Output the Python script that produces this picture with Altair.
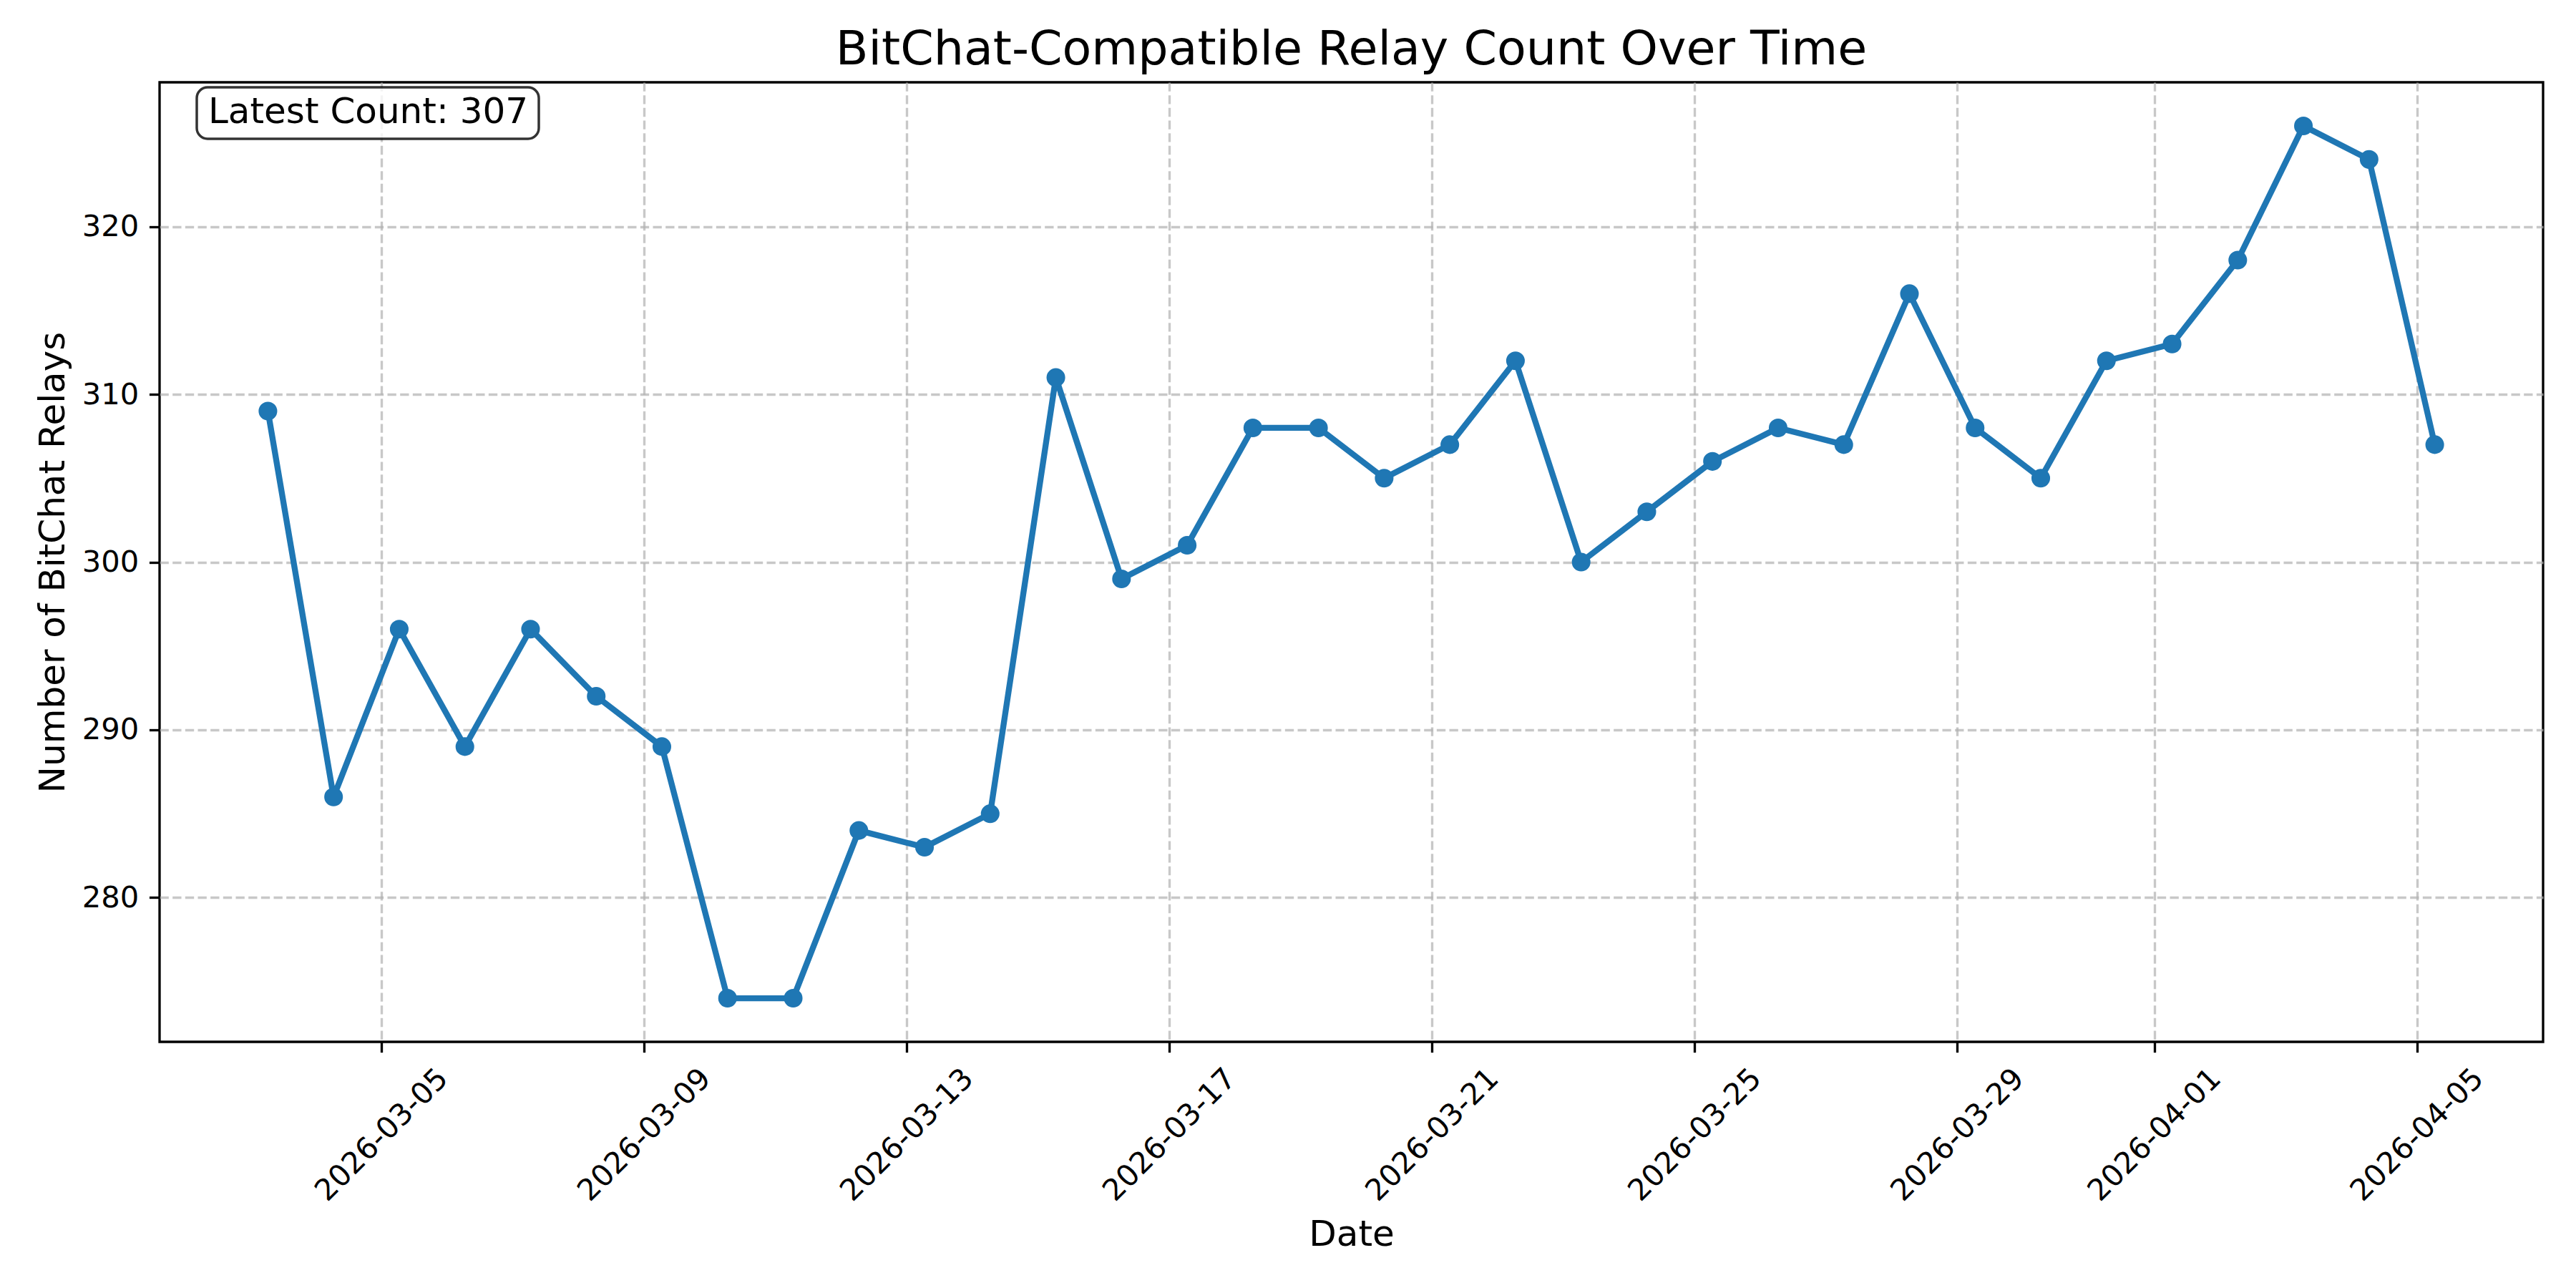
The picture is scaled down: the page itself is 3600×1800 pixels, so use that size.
import altair as alt
import pandas as pd
from datetime import datetime

# ---- data ----
dates = [
    "2026-03-03", "2026-03-04", "2026-03-05", "2026-03-06", "2026-03-07",
    "2026-03-08", "2026-03-09", "2026-03-10", "2026-03-11", "2026-03-12",
    "2026-03-13", "2026-03-14", "2026-03-15", "2026-03-16", "2026-03-17",
    "2026-03-18", "2026-03-19", "2026-03-20", "2026-03-21", "2026-03-22",
    "2026-03-23", "2026-03-24", "2026-03-25", "2026-03-26", "2026-03-27",
    "2026-03-28", "2026-03-29", "2026-03-30", "2026-03-31", "2026-04-01",
    "2026-04-02", "2026-04-03", "2026-04-04", "2026-04-05",
]
sample_time = "06:30"
counts = [
    309, 286, 296, 289, 296, 292, 289, 274, 274, 284,
    283, 285, 311, 299, 301, 308, 308, 305, 307, 312,
    300, 303, 306, 308, 307, 316, 308, 305, 312, 313,
    318, 326, 324, 307,
]
tick_dates = ["2026-03-05", "2026-03-09", "2026-03-13", "2026-03-17", "2026-03-21",
              "2026-03-25", "2026-03-29", "2026-04-01", "2026-04-05"]
y_ticks = [280, 290, 300, 310, 320]

title_text = "BitChat-Compatible Relay Count Over Time"
x_title = "Date"
y_title = "Number of BitChat Relays"
annotation = f"Latest Count: {counts[-1]}"

# ---- build table ----
stamps = [f"{d}T{sample_time}:00" for d in dates]
df = pd.DataFrame({"date": stamps, "count": counts})

# matplotlib-like 5% margins
dts = [datetime.fromisoformat(s) for s in stamps]
span = dts[-1] - dts[0]
lo = dts[0] - span * 0.05
hi = dts[-1] + span * 0.05
ymin, ymax = min(counts), max(counts)
ypad = (ymax - ymin) * 0.05


def to_dt(d):
    return alt.DateTime(year=d.year, month=d.month, date=d.day,
                        hours=d.hour, minutes=d.minute, seconds=d.second)


tick_vals = [to_dt(datetime.fromisoformat(t)) for t in tick_dates]

PT = 300 / 72.0
FONT = "DejaVu Sans"
BLUE = "#1f77b4"

W, H = 3331, 1341

x_enc = alt.X(
    "date:T",
    scale=alt.Scale(domain=[to_dt(lo), to_dt(hi)], nice=False),
    axis=alt.Axis(
        values=tick_vals, format="%Y-%m-%d", title=x_title,
        labelAngle=-45, labelAlign="center", labelBaseline="middle",
        labelPadding=115, labelFlush=False, labelOverlap=False, labelBound=False,
        labelLimit=0,
        titleY=284, titleBaseline="alphabetic",
    ),
)
y_enc = alt.Y(
    "count:Q",
    scale=alt.Scale(domain=[ymin - ypad, ymax + ypad], nice=False, zero=False),
    axis=alt.Axis(
        values=y_ticks, title=y_title, labelPadding=3.5 * PT,
        titleX=-134, titleBaseline="alphabetic",
    ),
)

base = alt.Chart(df).encode(x=x_enc, y=y_enc)

line = base.mark_line(color=BLUE, strokeWidth=2 * PT, strokeJoin="round")
pts = base.mark_point(filled=True, color=BLUE, size=680, opacity=1)

ann_df = pd.DataFrame({"label": [annotation], "title": [title_text]})
box = alt.Chart(ann_df).mark_rect(
    fill="white", fillOpacity=0.8, stroke="black", strokeOpacity=0.8,
    strokeWidth=3.5, cornerRadius=15,
).encode(x=alt.value(52), x2=alt.value(530), y=alt.value(7), y2=alt.value(79))
txt = alt.Chart(ann_df).mark_text(
    align="left", baseline="alphabetic", fontSize=12 * PT, font=FONT, color="black",
).encode(text="label:N", x=alt.value(68), y=alt.value(57))
ttl = alt.Chart(ann_df).mark_text(
    align="center", baseline="alphabetic", fontSize=16 * PT, font=FONT, color="black",
).encode(text="title:N", x=alt.value(W / 2), y=alt.value(-25))

chart = (
    alt.layer(line, pts, box, txt, ttl)
    .properties(
        width=W, height=H,
        autosize=alt.AutoSizeParams(type="none"),
        padding={"left": 223, "top": 115, "right": 3600 - 223 - W, "bottom": 1800 - 115 - H},
        background="white",
    )
    .configure_view(stroke="black", strokeWidth=0.8 * PT)
    .configure_axis(
        domain=False,
        grid=True, gridColor="#b0b0b0", gridOpacity=0.7, gridWidth=0.8 * PT,
        gridDash=[2.96 * PT, 1.28 * PT],
        tickColor="black", tickWidth=0.8 * PT, tickSize=3.5 * PT,
        labelFont=FONT, labelFontSize=10 * PT, labelColor="black",
        titleFont=FONT, titleFontSize=12 * PT, titleFontWeight="normal", titleColor="black",
    )
)

chart.save("out.html", embed_options={"renderer": "svg", "actions": False})
